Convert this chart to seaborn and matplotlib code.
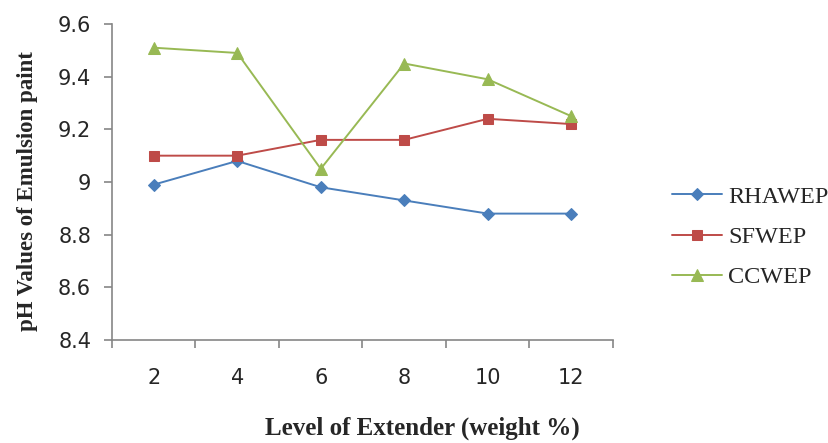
import matplotlib
matplotlib.use('Agg')
import matplotlib.pyplot as plt
from matplotlib.ticker import FixedLocator, FormatStrFormatter
import seaborn as sns
import pandas as pd

# datos
levels = [2, 4, 6, 8, 10, 12]
rhawep = [8.99, 9.08, 8.98, 8.93, 8.88, 8.88]
sfwep = [9.10, 9.10, 9.16, 9.16, 9.24, 9.22]
ccwep = [9.51, 9.49, 9.05, 9.45, 9.39, 9.25]
series = ['RHAWEP', 'SFWEP', 'CCWEP']
colores = {'RHAWEP': '#4A7EBB', 'SFWEP': '#BE4B48', 'CCWEP': '#98B954'}
marcadores = {'RHAWEP': 'D', 'SFWEP': 's', 'CCWEP': '^'}

filas = []
for nombre, valores in zip(series, [rhawep, sfwep, ccwep]):
    for i, (lv, v) in enumerate(zip(levels, valores)):
        filas.append({'pos': i, 'level': lv, 'pH': v, 'serie': nombre})
df = pd.DataFrame(filas)

sns.set_style('white')
plt.rcParams['font.family'] = ['DejaVu Sans']

fig = plt.figure(figsize=(8.29, 4.43), dpi=100)
ax = fig.add_axes([112 / 829, 1 - 340 / 443, 501 / 829, 316 / 443])

sns.lineplot(data=df, x='pos', y='pH', hue='serie', style='serie',
             hue_order=series, style_order=series, palette=colores,
             markers=marcadores, dashes=False, linewidth=1.4,
             markeredgecolor=None, ax=ax, legend=True)
for linea in ax.lines:
    m = linea.get_marker()
    linea.set_markersize({'D': 6, 's': 7.5, '^': 8}.get(m, 7))
    linea.set_markeredgecolor(linea.get_color())

ax.set_xlim(-0.5, len(levels) - 0.5)
ax.set_ylim(8.4, 9.6)
ax.set_yticks([8.4, 8.6, 8.8, 9.0, 9.2, 9.4, 9.6])
ax.yaxis.set_major_formatter(FormatStrFormatter('%g'))
ax.set_xticks(range(len(levels)))
ax.set_xticklabels([str(l) for l in levels])
ax.xaxis.set_minor_locator(FixedLocator([i - 0.5 for i in range(len(levels) + 1)]))

gris = '#868686'
for lado in ['top', 'right']:
    ax.spines[lado].set_visible(False)
for lado in ['left', 'bottom']:
    ax.spines[lado].set_color(gris)
    ax.spines[lado].set_linewidth(1.2)
ax.tick_params(axis='y', which='major', direction='out', length=6, width=1.2,
               color=gris, left=True, labelsize=15, pad=9)
ax.tick_params(axis='x', which='major', length=0, labelsize=15, pad=20)
ax.tick_params(axis='x', which='minor', direction='out', length=6, width=1.2,
               color=gris, bottom=True)
for linea in ax.lines:
    linea.set_clip_on(False)

ax.set_xlabel('Level of Extender (weight %)', fontfamily='Liberation Serif',
              fontweight='bold', fontsize=18, va='bottom')
ax.set_ylabel('pH Values of Emulsion paint', fontfamily='Liberation Serif',
              fontweight='bold', fontsize=16.5)
ax.xaxis.set_label_coords(0.619, -0.315)
ax.yaxis.set_label_coords(-0.148, 0.47)

ax.get_legend().remove()
handles, labels = ax.get_legend_handles_labels()
fig.legend(handles, labels, loc='center left', bbox_to_anchor=(672 / 829, 1 - 237 / 443),
           frameon=False, prop={'family': 'Liberation Serif', 'size': 17.5},
           handlelength=2.05, handletextpad=0.25, labelspacing=0.75,
           borderpad=0, borderaxespad=0)

fig.savefig('out.png', dpi=100)
